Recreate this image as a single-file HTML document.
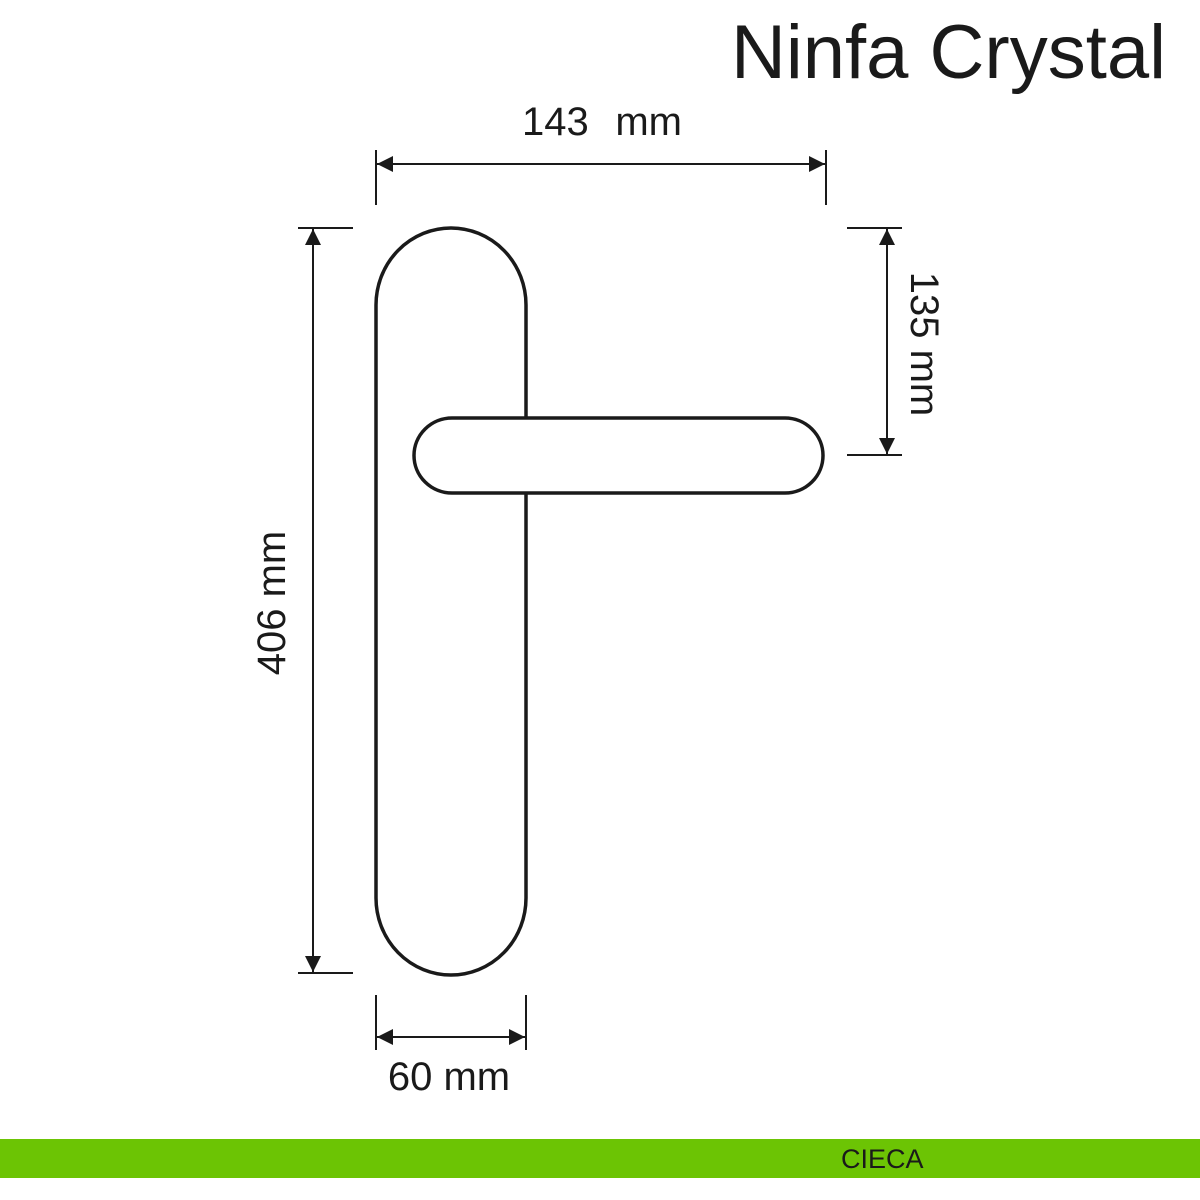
<!DOCTYPE html>
<html><head><meta charset="utf-8"><style>
html,body{margin:0;padding:0;background:#fff;width:1200px;height:1200px;overflow:hidden}
svg{display:block}
text{font-family:"Liberation Sans",sans-serif;fill:#1a1a1a}
</style></head><body>
<svg width="1200" height="1200" viewBox="0 0 1200 1200" xmlns="http://www.w3.org/2000/svg">
<defs>
<marker id="a" viewBox="0 0 10 10" refX="10" refY="5" markerWidth="16" markerHeight="16" markerUnits="userSpaceOnUse" orient="auto-start-reverse"><path d="M0,0 L10,5 L0,10 z" fill="#1a1a1a"/></marker>
</defs>
<text x="1166" y="78" font-size="76" text-anchor="end">Ninfa Crystal</text>
<path d="M376,305 A75,77 0 0 1 526,305 L526,898 A75,77 0 0 1 376,898 Z" fill="#fff" stroke="#1a1a1a" stroke-width="3.5"/>
<rect x="414" y="418" width="409" height="75" rx="38" ry="37.5" fill="#fff" stroke="#1a1a1a" stroke-width="3.5"/>
<g stroke="#1a1a1a" stroke-width="2" fill="none">
<line x1="376" y1="150" x2="376" y2="205"/><line x1="826" y1="150" x2="826" y2="205"/>
<line x1="377" y1="164" x2="825" y2="164" marker-start="url(#a)" marker-end="url(#a)"/>
<line x1="298" y1="228" x2="353" y2="228"/><line x1="298" y1="973" x2="353" y2="973"/>
<line x1="313" y1="229" x2="313" y2="972" marker-start="url(#a)" marker-end="url(#a)"/>
<line x1="847" y1="228" x2="902" y2="228"/><line x1="847" y1="455" x2="902" y2="455"/>
<line x1="887" y1="229" x2="887" y2="454" marker-start="url(#a)" marker-end="url(#a)"/>
<line x1="376" y1="995" x2="376" y2="1050"/><line x1="526" y1="995" x2="526" y2="1050"/>
<line x1="377" y1="1037" x2="525" y2="1037" marker-start="url(#a)" marker-end="url(#a)"/>
</g>
<text x="522" y="135" font-size="40">143</text>
<text x="682" y="135" font-size="40" text-anchor="end">mm</text>
<text x="449" y="1090" font-size="40" text-anchor="middle">60 mm</text>
<text transform="translate(285,603) rotate(-90)" font-size="40" text-anchor="middle">406 mm</text>
<text transform="translate(911,344) rotate(90)" font-size="40" text-anchor="middle">135 mm</text>
<rect x="0" y="1139" width="1200" height="39" fill="#6cc404"/>
<text x="841" y="1168" font-size="27">CIECA</text>
</svg>
</body></html>
